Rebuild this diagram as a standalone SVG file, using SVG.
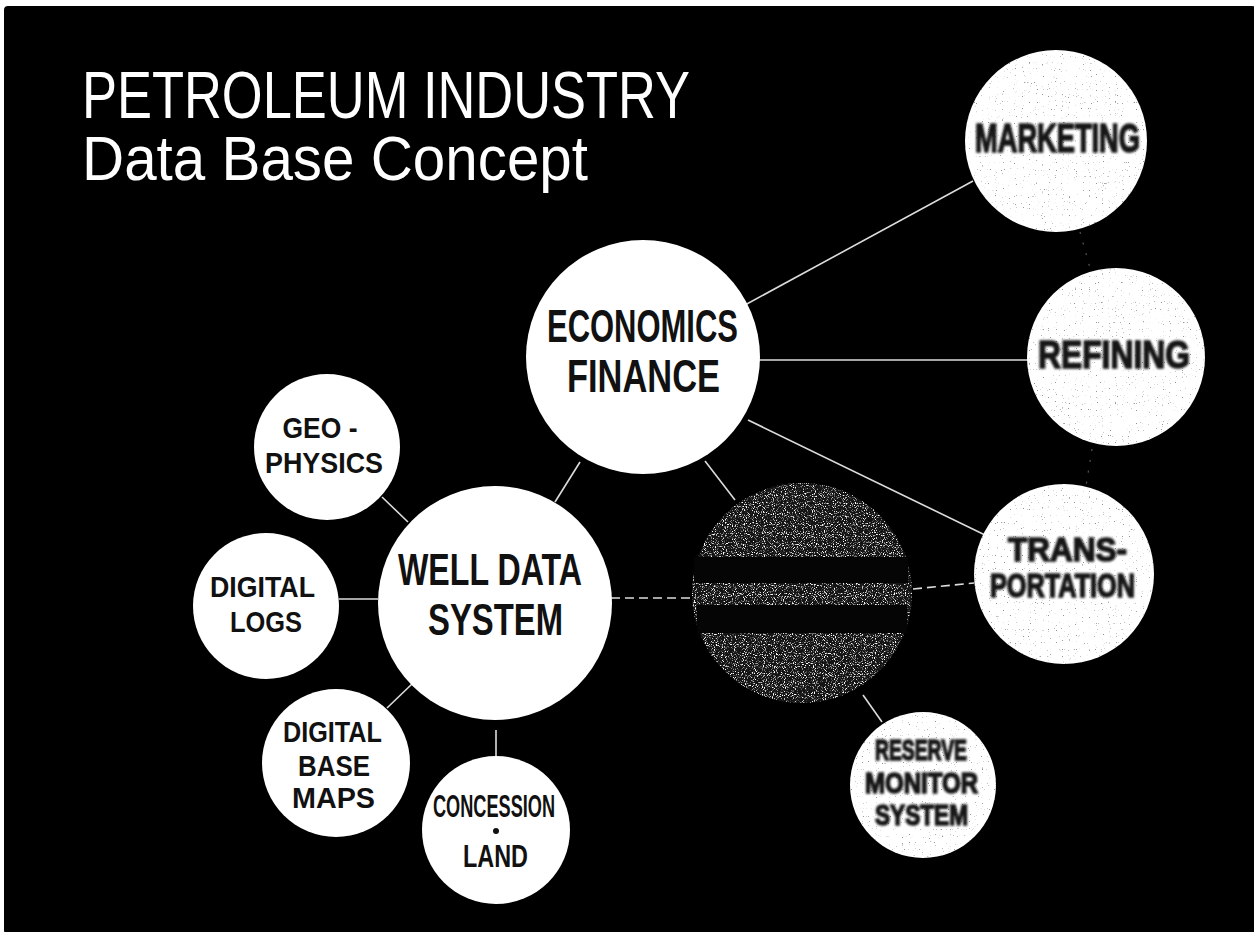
<svg xmlns="http://www.w3.org/2000/svg" width="1254" height="932" viewBox="0 0 1254 932">
  <defs>
    <style>
      .title { font-family: "Liberation Sans", Arial, sans-serif; fill: #ffffff; }
      .lbl { font-family: "Liberation Sans", Arial, sans-serif; font-weight: bold; fill: #111111; text-anchor: middle; }
      .blur { font-family: "Liberation Sans", Arial, sans-serif; font-weight: bold; fill: #151515; stroke: #151515; stroke-width: 1.6; text-anchor: middle; }
      .node { fill: #ffffff; }
      .conn { stroke: #dcdcdc; stroke-width: 1.6; fill: none; }
      .dash { stroke-dasharray: 9 5; }
      .faint { stroke: #555555; stroke-width: 1.2; stroke-dasharray: 2 9; fill: none; }
    </style>
    <filter id="grain" x="0" y="0" width="1" height="1">
      <feTurbulence type="fractalNoise" baseFrequency="0.85" numOctaves="1" seed="3" result="n"/>
      <feColorMatrix in="n" type="matrix" values="0 0 0 0 0.3  0 0 0 0 0.3  0 0 0 0 0.3  12 0 0 0 -8.2" result="d"/>
      <feComposite in="d" in2="SourceAlpha" operator="in"/>
    </filter>
    <filter id="sparkle" x="0" y="0" width="1" height="1">
      <feTurbulence type="fractalNoise" baseFrequency="0.9" numOctaves="1" seed="7" result="n"/>
      <feColorMatrix in="n" type="matrix" values="0 0 0 0 1  0 0 0 0 1  0 0 0 0 1  6 0 0 0 -3.2" result="d"/>
      <feComposite in="d" in2="SourceAlpha" operator="in"/>
    </filter>
    <filter id="soft" x="-5%" y="-20%" width="110%" height="140%">
      <feGaussianBlur stdDeviation="0.8"/>
    </filter>
  </defs>

  <rect x="0" y="0" width="1254" height="932" fill="#ffffff"/>
  <rect x="4" y="6" width="1252" height="928" rx="4" fill="#000000"/>

  <g id="title">
    <text class="title" x="82" y="118" font-size="66" textLength="608" lengthAdjust="spacingAndGlyphs">PETROLEUM INDUSTRY</text>
    <text class="title" x="82" y="180" font-size="63" textLength="506" lengthAdjust="spacingAndGlyphs">Data Base Concept</text>
  </g>

  <g id="connectors">
    <line class="conn" x1="745" y1="305" x2="973" y2="181"/>
    <line class="conn" x1="758" y1="360" x2="1028" y2="360"/>
    <line class="conn" x1="748" y1="420" x2="985" y2="535"/>
    <line class="conn" x1="705" y1="461" x2="735" y2="500"/>
    <line class="conn" x1="555" y1="502" x2="580" y2="462"/>
    <line class="conn dash" x1="611" y1="598" x2="692" y2="598"/>
    <line class="conn dash" x1="913" y1="589" x2="974" y2="583"/>
    <line class="conn" x1="863" y1="695" x2="882" y2="722"/>
    <line class="conn" x1="382" y1="497" x2="408" y2="522"/>
    <line class="conn" x1="339" y1="599" x2="378" y2="599"/>
    <line class="conn" x1="387" y1="708" x2="412" y2="684"/>
    <line class="conn" x1="496" y1="730" x2="496" y2="756"/>
    <line class="faint" x1="1080" y1="232" x2="1090" y2="268"/>
    <line class="faint" x1="1092" y1="449" x2="1086" y2="486"/>
  </g>

  <g id="economics-finance">
    <circle class="node" cx="643" cy="357" r="117"/>
    <text class="lbl" x="642.5" y="342" font-size="47" textLength="191" lengthAdjust="spacingAndGlyphs">ECONOMICS</text>
    <text class="lbl" x="643.5" y="392" font-size="47" textLength="153" lengthAdjust="spacingAndGlyphs">FINANCE</text>
  </g>

  <g id="well-data-system">
    <circle class="node" cx="495" cy="603" r="117"/>
    <text class="lbl" x="490" y="585" font-size="44" textLength="184" lengthAdjust="spacingAndGlyphs">WELL DATA</text>
    <text class="lbl" x="495.5" y="635" font-size="44" textLength="135" lengthAdjust="spacingAndGlyphs">SYSTEM</text>
  </g>

  <g id="geophysics">
    <circle class="node" cx="327" cy="447" r="73"/>
    <text class="lbl" x="320" y="438" font-size="30" textLength="75" lengthAdjust="spacingAndGlyphs">GEO -</text>
    <text class="lbl" x="324" y="473" font-size="30" textLength="118" lengthAdjust="spacingAndGlyphs">PHYSICS</text>
  </g>

  <g id="digital-logs">
    <circle class="node" cx="266" cy="606" r="73"/>
    <text class="lbl" x="262.5" y="597" font-size="30" textLength="105" lengthAdjust="spacingAndGlyphs">DIGITAL</text>
    <text class="lbl" x="266" y="632" font-size="30" textLength="72" lengthAdjust="spacingAndGlyphs">LOGS</text>
  </g>

  <g id="digital-base-maps">
    <circle class="node" cx="336" cy="763" r="74"/>
    <text class="lbl" x="332.5" y="742" font-size="29" textLength="99" lengthAdjust="spacingAndGlyphs">DIGITAL</text>
    <text class="lbl" x="334" y="776" font-size="29" textLength="72" lengthAdjust="spacingAndGlyphs">BASE</text>
    <text class="lbl" x="333.5" y="808" font-size="29" textLength="83" lengthAdjust="spacingAndGlyphs">MAPS</text>
  </g>

  <g id="concession-land">
    <circle class="node" cx="496" cy="830" r="74"/>
    <text class="lbl" x="494" y="817" font-size="32" textLength="122" lengthAdjust="spacingAndGlyphs">CONCESSION</text>
    <circle cx="496" cy="831" r="3" fill="#111111"/>
    <text class="lbl" x="495.5" y="867" font-size="32" textLength="65" lengthAdjust="spacingAndGlyphs">LAND</text>
  </g>

  <g id="marketing">
    <circle class="node" cx="1056" cy="141" r="91"/>
    <circle cx="1056" cy="141" r="91" fill="#000" filter="url(#grain)"/>
    <text class="blur" filter="url(#soft)" x="1057.5" y="152" font-size="40" textLength="165" lengthAdjust="spacingAndGlyphs">MARKETING</text>
  </g>

  <g id="refining">
    <circle class="node" cx="1116" cy="357" r="89"/>
    <circle cx="1116" cy="357" r="89" fill="#000" filter="url(#grain)"/>
    <text class="blur" filter="url(#soft)" x="1114" y="368" font-size="39" textLength="152" lengthAdjust="spacingAndGlyphs">REFINING</text>
  </g>

  <g id="transportation">
    <circle class="node" cx="1064" cy="574" r="90"/>
    <circle cx="1064" cy="574" r="90" fill="#000" filter="url(#grain)"/>
    <text class="blur" filter="url(#soft)" x="1067.5" y="561" font-size="34" textLength="119" lengthAdjust="spacingAndGlyphs">TRANS-</text>
    <text class="blur" filter="url(#soft)" x="1062.5" y="597" font-size="34" textLength="145" lengthAdjust="spacingAndGlyphs">PORTATION</text>
  </g>

  <g id="reserve-monitor-system">
    <circle class="node" cx="923" cy="785" r="73"/>
    <circle cx="923" cy="785" r="73" fill="#000" filter="url(#grain)"/>
    <text class="blur" filter="url(#soft)" x="921" y="760" font-size="29" textLength="92" lengthAdjust="spacingAndGlyphs">RESERVE</text>
    <text class="blur" filter="url(#soft)" x="921.5" y="793" font-size="29" textLength="113" lengthAdjust="spacingAndGlyphs">MONITOR</text>
    <text class="blur" filter="url(#soft)" x="921.5" y="825" font-size="29" textLength="93" lengthAdjust="spacingAndGlyphs">SYSTEM</text>
  </g>

  <g id="dark-data-system">
    <circle cx="802" cy="593" r="110" fill="#141414"/>
    <circle cx="802" cy="593" r="110" fill="#000" filter="url(#sparkle)"/>
    <rect x="694" y="557" width="214" height="26" fill="#050505"/>
    <rect x="697" y="605" width="210" height="28" fill="#050505"/>
  </g>
</svg>
